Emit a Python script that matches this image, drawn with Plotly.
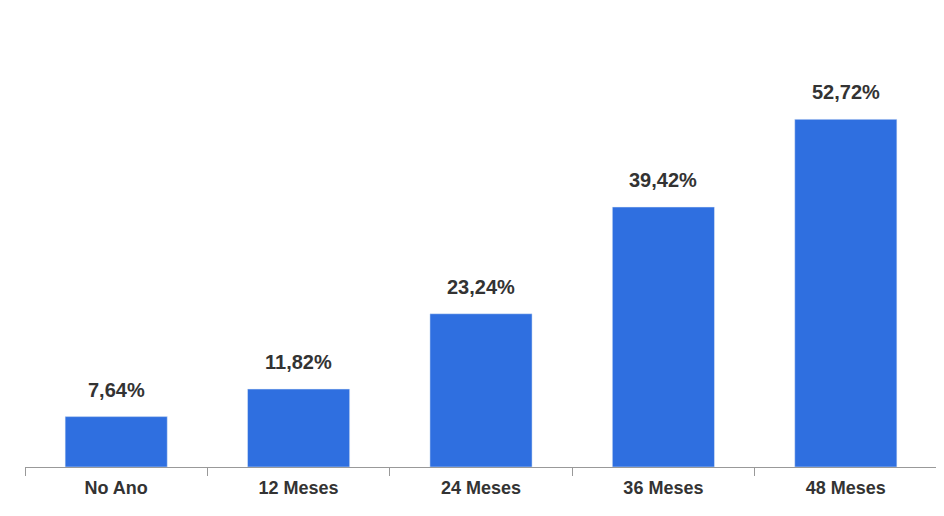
import plotly.graph_objects as go

categories = ["No Ano", "12 Meses", "24 Meses", "36 Meses", "48 Meses"]
values = [7.64, 11.82, 23.24, 39.42, 52.72]
labels = [f"{v:.2f}%".replace(".", ",") for v in values]

fig = go.Figure(go.Bar(
    x=categories, y=values, marker_color="#2F6FE0",
))

# value labels floated above the bars
for cat, val, lab in zip(categories, values, labels):
    fig.add_annotation(
        x=cat, y=val, text=lab, showarrow=False, yanchor="bottom", yshift=14,
        font=dict(family="Liberation Sans, Arial", size=20, color="#333333", weight="bold"),
    )

fig.update_layout(
    width=944, height=516,
    margin=dict(l=17, r=15, t=0, b=57),
    plot_bgcolor="white", paper_bgcolor="white",
    bargap=0.44, showlegend=False,
    font=dict(family="Liberation Sans, Arial", color="#333333"),
)
fig.update_xaxes(
    showline=True, linecolor="#999999", linewidth=1,
    ticks="outside", tickson="boundaries", ticklen=8, tickcolor="#999999",
    ticklabelstandoff=4,
    tickfont=dict(size=18, color="#333333", family="Liberation Sans, Arial", weight="bold"),
)
fig.update_yaxes(visible=False, range=[0, 69.6])

fig.write_html("out.html")
